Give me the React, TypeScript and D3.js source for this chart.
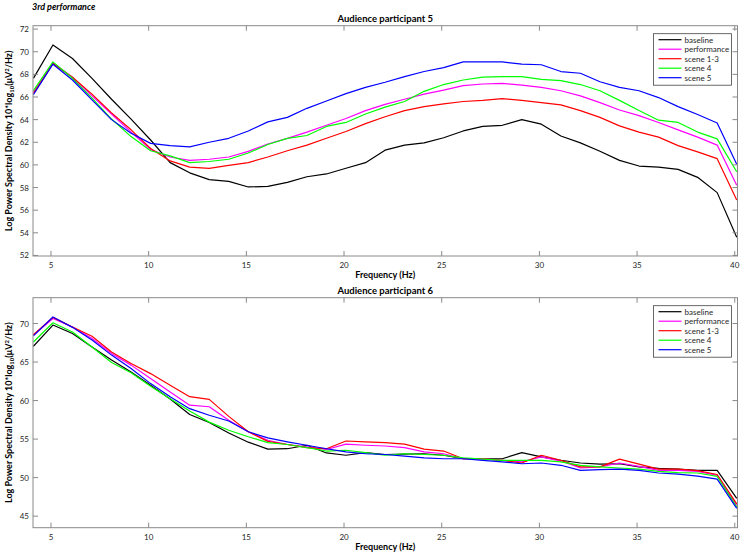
import React from "react";
import * as d3 from "d3";

const freqs = [4.1,5.1,6.1,7.1,8.1,9.1,10.1,11.1,12.1,13.1,14.1,15.1,16.1,17.1,18.1,19.1,20.1,21.1,22.1,23.1,24.1,25.1,26.1,27.1,28.1,29.1,30.1,31.1,32.1,33.1,34.1,35.1,36.1,37.1,38.1,39.1,40.1];

const seriesNames = ["baseline", "performance", "scene 1-3", "scene 4", "scene 5"];
const seriesColors = ["#000000", "#ff00ff", "#ff0000", "#00ff00", "#0000ff"];

// Audience participant 5
const p5Baseline = [67.65,70.6,69.4,67.65,65.8,64.05,62.2,60.2,59.3,58.7,58.55,58.05,58.1,58.45,58.95,59.2,59.7,60.2,61.3,61.75,61.95,62.4,63.0,63.4,63.5,64.0,63.6,62.55,61.95,61.2,60.4,59.9,59.8,59.6,58.9,57.55,53.6];
const p5Performance = [66.4,69.0,67.75,66.1,64.5,62.9,61.35,60.7,60.4,60.5,60.7,61.2,61.85,62.35,62.9,63.5,64.1,64.8,65.35,65.8,66.25,66.6,67.0,67.15,67.2,67.05,66.85,66.55,66.1,65.5,64.85,64.35,63.75,63.1,62.45,61.75,58.2];
const p5Scene13 = [66.3,68.95,67.75,66.25,64.6,63.1,61.45,60.35,59.8,59.7,59.95,60.2,60.7,61.25,61.75,62.35,62.95,63.65,64.25,64.8,65.15,65.4,65.6,65.7,65.85,65.7,65.5,65.3,64.8,64.2,63.45,62.9,62.45,61.7,61.15,60.55,56.9];
const p5Scene4 = [66.55,69.1,67.65,65.9,64.05,62.5,61.25,60.8,60.2,60.3,60.5,61.05,61.8,62.35,62.6,63.4,63.75,64.5,65.1,65.6,66.5,67.1,67.5,67.75,67.8,67.8,67.55,67.45,67.1,66.55,65.7,64.8,63.95,63.75,62.9,62.3,59.4];
const p5Scene5 = [66.2,68.9,67.5,65.75,64.0,62.8,61.9,61.7,61.6,62.0,62.35,63.0,63.8,64.2,65.0,65.65,66.3,66.85,67.3,67.8,68.25,68.6,69.1,69.1,69.1,68.9,68.85,68.25,68.1,67.35,66.85,66.55,65.95,65.15,64.45,63.7,60.05];

// Audience participant 6
const p6Baseline = [67.05,69.8,68.7,66.95,65.25,63.7,62.0,60.2,58.2,57.15,55.8,54.6,53.7,53.75,54.2,53.2,52.9,53.25,53.0,53.05,53.1,52.9,52.45,52.45,52.45,53.25,52.7,52.25,51.9,51.75,51.8,51.4,51.2,51.1,50.95,50.95,47.3];
const p6Performance = [68.5,70.65,69.55,68.05,66.1,64.6,62.85,61.1,59.4,59.2,57.45,55.95,54.85,54.3,54.0,53.65,54.35,54.2,54.1,53.9,53.35,53.1,52.45,52.45,52.25,52.05,52.7,52.15,51.25,51.4,51.9,51.45,50.95,50.95,50.8,50.3,46.4];
const p6Scene13 = [68.55,70.8,69.55,68.35,66.3,64.8,63.5,62.0,60.5,60.15,57.95,55.95,54.7,54.3,53.9,53.75,54.75,54.65,54.55,54.35,53.7,53.45,52.45,52.45,52.25,51.9,52.9,52.25,51.4,51.4,52.4,51.75,51.1,51.1,50.9,50.4,46.6];
const p6Scene4 = [67.6,70.1,68.9,66.95,64.95,63.6,61.85,60.25,58.65,57.2,56.15,55.3,54.55,54.3,53.9,53.45,53.55,53.25,52.9,53.1,53.0,52.9,52.55,52.4,52.25,52.25,52.25,52.05,51.6,51.4,51.25,51.1,50.8,50.65,50.6,50.15,46.2];
const p6Scene5 = [68.4,70.85,69.5,67.85,65.9,64.15,62.2,60.5,58.95,58.1,57.35,55.95,55.15,54.65,54.2,53.75,53.35,53.1,53.0,52.8,52.55,52.45,52.45,52.25,52.05,51.8,51.9,51.6,50.95,51.05,51.1,50.95,50.6,50.45,50.2,49.8,46.0];

const xTicks = [5, 10, 15, 20, 25, 30, 35, 40];
const p5YTicks = [52, 54, 56, 58, 60, 62, 64, 66, 68, 70, 72];
const p6YTicks = [45, 50, 55, 60, 65, 70];

const W = 743;
const H = 555;
const FONT = "Lato, 'Open Sans', 'DejaVu Sans', sans-serif";
const AXIS = "#8a8a8a";
const TXT = "#262626";

type PanelProps = {
  title: string;
  series: number[][];
  yDomain: [number, number];
  yTicks: number[];
  top: number;
  bottom: number;
};

const left = 33;
const right = 737.5;
const xScale = d3.scaleLinear().domain([4.08, 40.14]).range([left, right]);

function Panel({ title, series, yDomain, yTicks, top, bottom }: PanelProps) {
  const y = d3.scaleLinear().domain(yDomain).range([bottom, top]);
  const line = d3
    .line<number>()
    .x((_, i) => xScale(freqs[i]))
    .y((d) => y(d));
  const tl = 5;
  const legX = 653.5;
  const legY = top + 8;
  const legW = 78;
  const rowH = 9.5;
  const legH = rowH * 5 + 4;
  return (
    <g>
      <text x={(left + right) / 2} y={top - 4} textAnchor="middle" fontFamily={FONT} fontWeight="bold" fontSize={9.5} fill="#000">
        {title}
      </text>
      <defs>
        <clipPath id={"clip" + top}>
          <rect x={left} y={top} width={right - left} height={bottom - top} />
        </clipPath>
      </defs>
      <g clipPath={`url(#clip${top})`}>
        {series.map((s, i) => (
          <path key={i} d={line(s) || ""} fill="none" stroke={seriesColors[i]} strokeWidth={1.2} strokeLinejoin="round" />
        ))}
      </g>
      {/* box */}
      <rect x={left} y={top} width={right - left} height={bottom - top} fill="none" stroke={AXIS} strokeWidth={1} />
      {xTicks.map((t) => (
        <g key={"x" + t}>
          <line x1={xScale(t)} x2={xScale(t)} y1={bottom} y2={bottom - tl} stroke={AXIS} />
          <line x1={xScale(t)} x2={xScale(t)} y1={top} y2={top + tl} stroke={AXIS} />
          <text x={xScale(t)} y={bottom + 12} textAnchor="middle" fontFamily={FONT} fontSize={8} fill={TXT}>
            {t}
          </text>
        </g>
      ))}
      {yTicks.map((t) => (
        <g key={"y" + t}>
          <line x1={left} x2={left + tl} y1={y(t)} y2={y(t)} stroke={AXIS} />
          <line x1={right} x2={right - tl} y1={y(t)} y2={y(t)} stroke={AXIS} />
          <text x={left - 4} y={y(t) + 3} textAnchor="end" fontFamily={FONT} fontSize={8} fill={TXT}>
            {t}
          </text>
        </g>
      ))}
      <text x={(left + right) / 2} y={bottom + 22} textAnchor="middle" fontFamily={FONT} fontWeight="bold" fontSize={9} fill="#000">
        Frequency (Hz)
      </text>
      <text
        transform={`translate(12,${(top + bottom) / 2}) rotate(-90)`}
        textAnchor="middle"
        fontFamily={FONT}
        fontWeight="bold"
        fontSize={9}
        fill="#000"
      >
        Log Power Spectral Density 10*log
        <tspan fontSize={6} dy={2}>10</tspan>
        <tspan dy={-2}>(μV</tspan>
        <tspan fontSize={6} dy={-3}>2</tspan>
        <tspan dy={3}>/Hz)</tspan>
      </text>
      {/* legend */}
      <rect x={legX} y={legY} width={legW} height={legH} fill="#fff" stroke="#444" strokeWidth={0.8} />
      {seriesNames.map((n, i) => (
        <g key={n}>
          <line x1={legX + 5} x2={legX + 28} y1={legY + 6 + i * rowH} y2={legY + 6 + i * rowH} stroke={seriesColors[i]} strokeWidth={1.2} />
          <text x={legX + 31} y={legY + 9 + i * rowH} fontFamily={FONT} fontSize={8} fill={TXT}>
            {n}
          </text>
        </g>
      ))}
    </g>
  );
}

export default function App() {
  return (
    <svg width={W} height={H} style={{ position: "absolute", left: 0, top: 0, background: "#fff" }}>
      <rect width={W} height={H} fill="#fff" />
      <text x={32} y={10} fontFamily={FONT} fontWeight="bold" fontStyle="italic" fontSize={9} fill="#000">
        3rd performance
      </text>
      <Panel
        title="Audience participant 5"
        series={[p5Baseline, p5Performance, p5Scene13, p5Scene4, p5Scene5]}
        yDomain={[51.95, 72.3]}
        yTicks={p5YTicks}
        top={25.7}
        bottom={256}
      />
      <Panel
        title="Audience participant 6"
        series={[p6Baseline, p6Performance, p6Scene13, p6Scene4, p6Scene5]}
        yDomain={[43.5, 73.35]}
        yTicks={p6YTicks}
        top={297.7}
        bottom={527.7}
      />
    </svg>
  );
}
